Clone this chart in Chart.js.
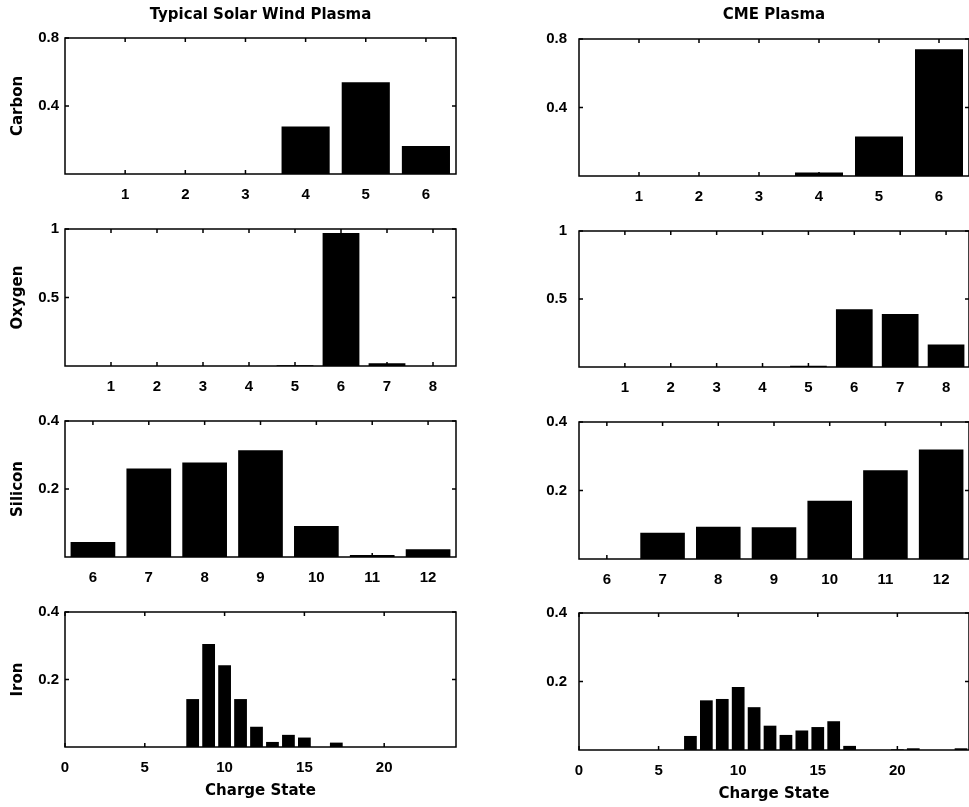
<!DOCTYPE html>
<html><head><meta charset="utf-8">
<script src="https://cdn.jsdelivr.net/npm/chart.js@4.4.0/dist/chart.umd.min.js"></script>
<style>
html,body{margin:0;padding:0;background:#fff;overflow:hidden;width:969px;height:807px;position:relative;}
canvas{position:absolute;}
</style></head><body>
<script>
// ---- data ----
const columnTitles = ["Typical Solar Wind Plasma", "CME Plasma"];
const elementNames = ["Carbon", "Oxygen", "Silicon", "Iron"];
const xAxisTitle = "Charge State";

const carbonCharge = [1, 2, 3, 4, 5, 6];
const carbonSolarWind = [0, 0, 0, 0.28, 0.54, 0.165];
const carbonCME = [0, 0, 0, 0.02, 0.23, 0.74];
const carbonXTicks = [1, 2, 3, 4, 5, 6];
const carbonYTicks = [0.4, 0.8];

const oxygenCharge = [1, 2, 3, 4, 5, 6, 7, 8];
const oxygenSolarWind = [0, 0, 0, 0, 0.005, 0.97, 0.02, 0];
const oxygenCME = [0, 0, 0, 0, 0.01, 0.425, 0.39, 0.165];
const oxygenXTicks = [1, 2, 3, 4, 5, 6, 7, 8];
const oxygenYTicks = [0.5, 1];

const siliconCharge = [6, 7, 8, 9, 10, 11, 12];
const siliconSolarWind = [0.044, 0.26, 0.278, 0.314, 0.091, 0.006, 0.023];
const siliconCME = [0, 0.077, 0.094, 0.093, 0.17, 0.259, 0.32];
const siliconXTicks = [6, 7, 8, 9, 10, 11, 12];
const siliconYTicks = [0.2, 0.4];

const ironCharge = [1, 2, 3, 4, 5, 6, 7, 8, 9, 10, 11, 12, 13, 14, 15, 16, 17, 18, 19, 20, 21, 22, 23, 24];
const ironSolarWind = [0, 0, 0, 0, 0, 0, 0, 0.142, 0.305, 0.242, 0.142, 0.06, 0.015, 0.036, 0.028, 0, 0.013, 0, 0, 0, 0, 0, 0, 0];
const ironCME = [0, 0, 0, 0, 0, 0, 0.041, 0.145, 0.149, 0.184, 0.125, 0.071, 0.044, 0.057, 0.067, 0.084, 0.012, 0, 0, 0.002, 0.005, 0, 0, 0.005];
const ironXTicks = [0, 5, 10, 15, 20];
const ironYTicks = [0.2, 0.4];

// ---- layout ----
const cols = [{l: 65, r: 456, tickPad: 6}, {l: 579, r: 969, tickPad: 12}];
const rows = [
  [{t: 38, b: 174}, {t: 39, b: 176}],
  [{t: 229, b: 366}, {t: 231, b: 367}],
  [{t: 421, b: 557}, {t: 422, b: 559}],
  [{t: 612, b: 747}, {t: 613, b: 750}]
];
const elements = [
  {charge: carbonCharge, vals: [carbonSolarWind, carbonCME], xMin: 0, xMax: 6.5, yMax: 0.8, xt: carbonXTicks, yt: carbonYTicks},
  {charge: oxygenCharge, vals: [oxygenSolarWind, oxygenCME], xMin: 0, xMax: 8.5, yMax: 1, xt: oxygenXTicks, yt: oxygenYTicks},
  {charge: siliconCharge, vals: [siliconSolarWind, siliconCME], xMin: 5.5, xMax: 12.5, yMax: 0.4, xt: siliconXTicks, yt: siliconYTicks},
  {charge: ironCharge, vals: [ironSolarWind, ironCME], xMin: 0, xMax: 24.5, yMax: 0.4, xt: ironXTicks, yt: ironYTicks}
];

const boxPlugin = {
  id: 'box',
  afterDatasetsDraw(chart) {
    const {ctx, chartArea: a, scales: {x, y}} = chart;
    ctx.save();
    ctx.strokeStyle = '#000';
    ctx.lineWidth = 1.5;
    ctx.strokeRect(a.left, a.top, a.right - a.left, a.bottom - a.top);
    ctx.beginPath();
    x.ticks.forEach(t => {
      const px = x.getPixelForValue(t.value);
      ctx.moveTo(px, a.top); ctx.lineTo(px, a.top + 4);
      ctx.moveTo(px, a.bottom); ctx.lineTo(px, a.bottom - 4);
    });
    y.ticks.forEach(t => {
      const py = y.getPixelForValue(t.value);
      ctx.moveTo(a.left, py); ctx.lineTo(a.left + 4, py);
      ctx.moveTo(a.right, py); ctx.lineTo(a.right - 4, py);
    });
    ctx.stroke();
    ctx.restore();
  }
};

Chart.defaults.color = '#000';
Chart.defaults.font.family = "'Liberation Sans', Arial, sans-serif";

const TICK_FONT = {family: "'Liberation Sans', Arial, sans-serif", size: 15, weight: 'bold'};
const LABEL_FONT = {family: "'DejaVu Sans', sans-serif", size: 15, weight: 'bold'};
const TOP_PAD = 26;

elements.forEach((el, ri) => {
  [0, 1].forEach(ci => {
    const col = cols[ci], rb = rows[ri][ci];
    const yW = 65, padR = 8;
    const isTop = ri === 0, isBottom = ri === 3;
    const xH = isBottom ? 58 : 36;
    const cTop = isTop ? 0 : rb.t - TOP_PAD;
    const cLeft = col.l - yW;
    const cW = yW + (col.r - col.l) + padR;
    const cH = (rb.b - cTop) + xH;
    const cv = document.createElement('canvas');
    cv.width = cW; cv.height = cH;
    cv.style.left = cLeft + 'px'; cv.style.top = cTop + 'px';
    cv.style.width = cW + 'px'; cv.style.height = cH + 'px';
    document.body.appendChild(cv);

    const data = el.charge.map((c, i) => ({x: c, y: el.vals[ci][i]}));
    new Chart(cv, {
      type: 'bar',
      data: {datasets: [{data, backgroundColor: '#000', borderWidth: 0, barPercentage: 0.8, categoryPercentage: 1}]},
      options: {
        responsive: false, animation: false, events: [],
        layout: {padding: {top: isTop ? 0 : TOP_PAD, right: padR, left: 0, bottom: 0}},
        plugins: {
          legend: {display: false}, tooltip: {enabled: false},
          title: {
            display: isTop, text: columnTitles[ci], font: LABEL_FONT, color: '#000',
            fullSize: false,
            padding: {top: 6.5, bottom: rb.t - 6.5 - 18}
          }
        },
        scales: {
          x: {
            type: 'linear', min: el.xMin, max: el.xMax, offset: false,
            grid: {display: false, drawTicks: false}, border: {display: false},
            afterBuildTicks: s => { s.ticks = el.xt.map(v => ({value: v})); },
            afterFit: s => { s.height = xH; },
            ticks: {font: TICK_FONT, color: '#000', padding: 12, maxRotation: 0, autoSkip: false, callback: v => String(v)},
            title: {display: isBottom, text: xAxisTitle, font: LABEL_FONT, color: '#000', padding: {top: 0, bottom: 5}}
          },
          y: {
            type: 'linear', min: 0, max: el.yMax,
            grid: {display: false, drawTicks: false}, border: {display: false},
            afterBuildTicks: s => { s.ticks = el.yt.map(v => ({value: v})); },
            afterFit: s => { s.width = yW; },
            ticks: {font: TICK_FONT, color: '#000', padding: col.tickPad, callback: v => String(v)},
            title: {display: ci === 0, text: elementNames[ri], font: LABEL_FONT, color: '#000', padding: {top: 9, bottom: 0}}
          }
        }
      },
      plugins: [boxPlugin]
    });
  });
});
</script>
</body></html>
